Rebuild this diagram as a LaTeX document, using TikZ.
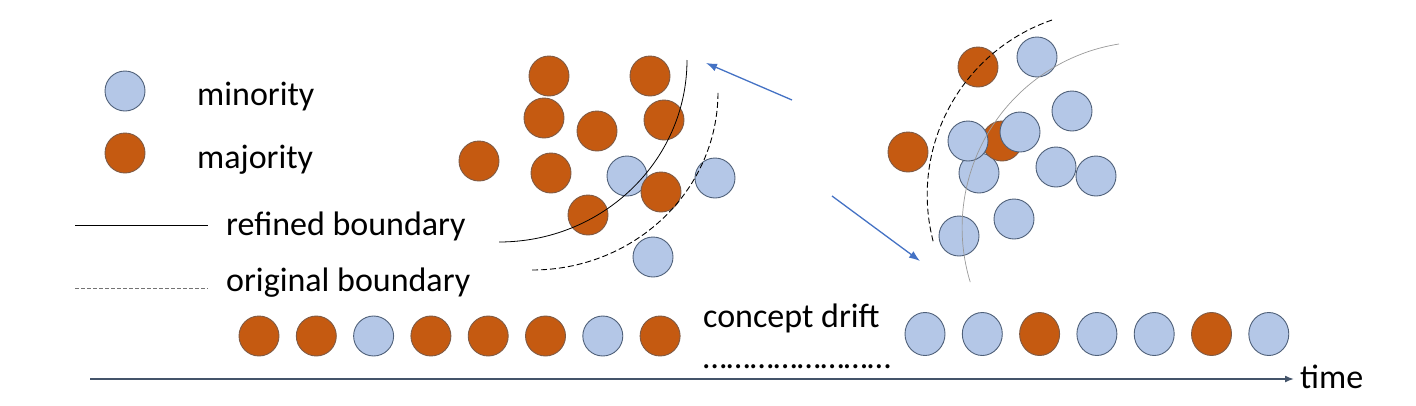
\documentclass[tikz,border=0pt]{standalone}
\usepackage{fontspec}
\setmainfont{Carlito}
\usetikzlibrary{arrows.meta,shapes.geometric}
\definecolor{majfill}{HTML}{C55A11}
\definecolor{majline}{HTML}{7F5A45}
\definecolor{minfill}{HTML}{B4C7E7}
\definecolor{minline}{HTML}{4F6079}
\definecolor{flow}{HTML}{4472C4}
\definecolor{axis}{HTML}{44546A}

\begin{document}
\begin{tikzpicture}[x=1pt,y=-1pt,node distance=57.3pt,font=\fontsize{34}{40}\selectfont,
  minor/.style={circle,draw=minline,fill=minfill,line width=0.9pt,minimum size=40pt,inner sep=0},
  major/.style={circle,draw=majline,fill=majfill,line width=0.9pt,minimum size=40pt,inner sep=0},
  minorov/.style={minor,ellipse,minimum width=40pt,minimum height=43pt},
  majorov/.style={major,ellipse,minimum width=40pt,minimum height=43pt},
  txt/.style={anchor=base west,inner sep=0},
  driftarrow/.style={-{Latex[length=11pt,width=8pt]},draw=flow,line width=1.3pt}]

\useasboundingbox (0,0) rectangle (1416,405);

% Legend
\node[minor] (k1) at (125,91) {};
\node[major] (k2) at (125,153) {};
\node[txt] (kt1) at (197,105) {minority};
\node[txt] (kt2) at (197,168) {majority};
\coordinate (ka) at (75,225);
\coordinate (kb) at (208,225);
\draw[line width=0.7pt] (ka) -- (kb);
\node[txt] (kt3) at (226,235) {refined boundary};
\coordinate (kc) at (75,288);
\coordinate (kd) at (208,288);
\draw[black!55,line width=0.8pt,dash pattern=on 4pt off 2pt] (kc) -- (kd);
\node[txt] (kt4) at (226,291) {original boundary};

% Nodes, old concept
\node[major] (a1) at (549,76) {};
\node[major] (a2) at (650,76) {};
\node[major] (a3) at (544,118) {};
\node[major] (a4) at (597,131) {};
\node[major] (a5) at (664,120) {};
\node[major] (a6) at (479,161) {};
\node[major] (a7) at (551,173) {};
\node[minor] (a8) at (627,176) {};
\node[major] (a9) at (661,192) {};
\node[minor] (a10) at (715,178) {};
\node[major] (a11) at (588,215) {};
\node[minor] (a12) at (653,257) {};

% boundaries, old concept
\draw[line width=0.8pt] (499,242) arc[start angle=90,end angle=0,x radius=188,y radius=182];
\draw[line width=0.9pt,dash pattern=on 6pt off 3pt] (532,270) arc[start angle=90,end angle=0,x radius=186,y radius=178];

% Nodes, new concept
\node[major] (b1) at (978,67) {};
\node[minor] (b2) at (1037,57) {};
\node[major] (b3) at (908,152) {};
\node[minor] (b4) at (1072,111) {};
\node[minor] (b5) at (979,173) {};
\node[major] (b6) at (1002,141) {};
\node[minor] (b7) at (968,141) {};
\node[minor] (b8) at (1020,132) {};
\node[minor] (b9) at (1056,167) {};
\node[minor] (b10) at (1096,176) {};
\node[minor] (b11) at (1014,219) {};
\node[minor] (b12) at (959,236) {};

% boundaries, new concept
\draw[line width=0.9pt,dash pattern=on 6pt off 3pt] (1052,20) arc[start angle=251,end angle=165,radius=185];
\draw[black!40,line width=0.7pt] (1119,44) arc[start angle=261,end angle=163,radius=186];

%arcs
\coordinate (p1) at (792,100);
\coordinate (p2) at (706,63);
\coordinate (q1) at (832,196);
\coordinate (q2) at (920,261);
\path (p1) edge[driftarrow] (p2);
\path (q1) edge[driftarrow] (q2);

% stream
\node[major] (s1) at (259,336) {};
\node[major,right of = s1] (s2) {};
\node[minor,right of = s2] (s3) {};
\node[major,right of = s3] (s4) {};
\node[major,right of = s4] (s5) {};
\node[major,right of = s5] (s6) {};
\node[minor,right of = s6] (s7) {};
\node[major,right of = s7] (s8) {};

\node[txt] (drift) at (703,327) {concept drift};
\node[txt] (gap) at (703,368) {……………………};

\node[minorov] (u1) at (925,334) {};
\node[minorov,right of = u1] (u2) {};
\node[majorov,right of = u2] (u3) {};
\node[minorov,right of = u3] (u4) {};
\node[minorov,right of = u4] (u5) {};
\node[majorov,right of = u5] (u6) {};
\node[minorov,right of = u6] (u7) {};

% time axis
\node[txt] (time) at (1300,388) {time};
\coordinate (t0) at (90,379);
\coordinate (t1) at (1294,379);
\path (t0) edge[-{Latex[length=9pt,width=7pt]},draw=axis,line width=1.6pt] (t1);

\end{tikzpicture}
\end{document}
